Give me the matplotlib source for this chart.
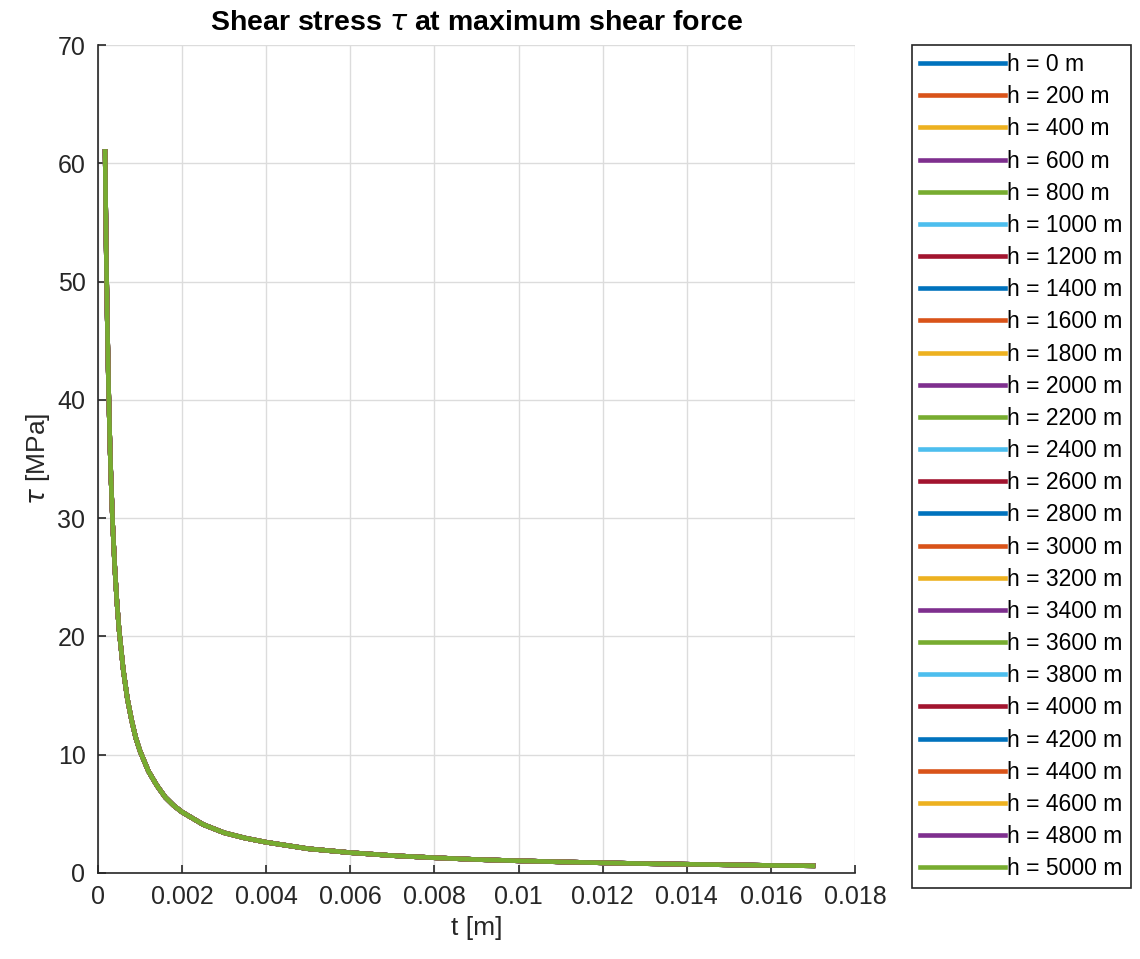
import matplotlib
matplotlib.use("Agg")
import matplotlib.pyplot as plt

# values (all heights give the same curve)
t_vals = [0.00017, 0.00018, 0.0002, 0.00022, 0.00025, 0.00028, 0.0003, 0.00035,
          0.0004, 0.00045, 0.0005, 0.0006, 0.0007, 0.0008, 0.0009, 0.001,
          0.0012, 0.0014, 0.0016, 0.0018, 0.002, 0.0025, 0.003, 0.0035,
          0.004, 0.005, 0.006, 0.007, 0.008, 0.009, 0.01, 0.011,
          0.012, 0.013, 0.014, 0.015, 0.016, 0.017]
tau_vals = [61.0, 57.2, 51.5, 46.8, 41.2, 36.8, 34.3, 29.4,
            25.8, 22.9, 20.6, 17.2, 14.7, 12.9, 11.4, 10.3,
            8.6, 7.4, 6.4, 5.7, 5.15, 4.1, 3.4, 2.95,
            2.6, 2.05, 1.72, 1.47, 1.29, 1.14, 1.03, 0.94,
            0.86, 0.79, 0.74, 0.69, 0.64, 0.61]
heights = list(range(0, 5001, 200))

x_ticks = [0, 0.002, 0.004, 0.006, 0.008, 0.01, 0.012, 0.014, 0.016, 0.018]
x_ticklabels = ["0", "0.002", "0.004", "0.006", "0.008", "0.01", "0.012", "0.014", "0.016", "0.018"]
y_ticks = [0, 10, 20, 30, 40, 50, 60, 70]

matlab_colors = ["#0072BD", "#D95319", "#EDB120", "#7E2F8E", "#77AC30", "#4DBEEE", "#A2142F"]

plt.rcParams["font.family"] = ["Liberation Sans", "DejaVu Sans"]
plt.rcParams["mathtext.fontset"] = "dejavusans"

W, H = 1140, 959
fig = plt.figure(figsize=(W / 100, H / 100), dpi=100)
ax = fig.add_axes([98 / W, (H - 873) / H, (855 - 98) / W, (873 - 45) / H])

for i, h in enumerate(heights):
    ax.plot(t_vals, tau_vals, color=matlab_colors[i % len(matlab_colors)],
            linewidth=3.3, solid_joinstyle="round", label=f"h = {h} m")

ax.set_xlim(0, 0.018)
ax.set_ylim(0, 70)
ax.set_xticks(x_ticks)
ax.set_xticklabels(x_ticklabels)
ax.set_yticks(y_ticks)
ax.grid(True, color="#dcdcdc", linewidth=1)
ax.set_axisbelow(True)
for side in ("top", "right"):
    ax.spines[side].set_visible(False)
for side in ("left", "bottom"):
    ax.spines[side].set_color("#262626")
    ax.spines[side].set_linewidth(1.2)
ax.tick_params(direction="in", length=6, width=1.2, colors="#262626",
               labelsize=18, pad=9)

ax.set_xlabel("t [m]", fontsize=19, color="#262626", labelpad=5)
ax.set_ylabel(r"$\tau$ [MPa]", fontsize=19, color="#262626", labelpad=4)
ax.set_title(r"Shear stress $\tau$ at maximum shear force", fontsize=20.5,
             fontweight="bold", pad=11)

leg = fig.legend(loc="upper left", bbox_to_anchor=(912 / W, 1 - 45 / H),
                 bbox_transform=fig.transFigure, borderaxespad=0,
                 fontsize=16.5, handlelength=3.7, handletextpad=0.1,
                 labelspacing=0.40, borderpad=0.35, fancybox=False,
                 framealpha=1, edgecolor="#262626")
leg.get_frame().set_linewidth(1.2)

fig.savefig("out.png", dpi=100)
